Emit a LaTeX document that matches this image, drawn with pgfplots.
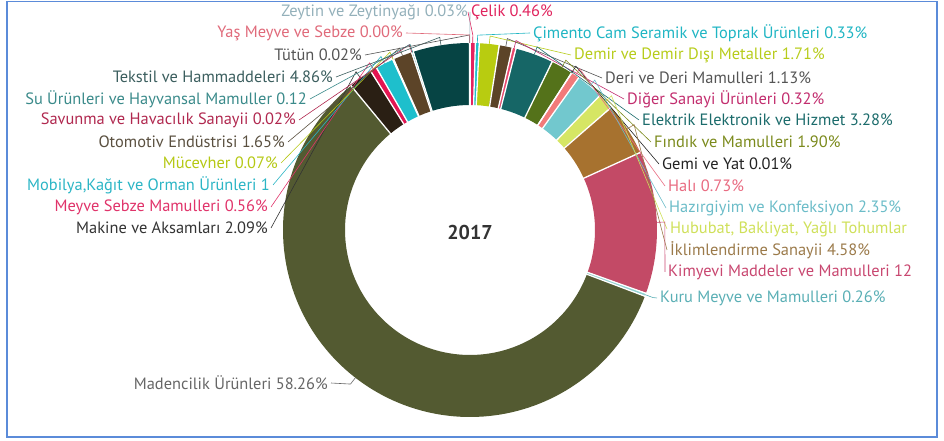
\documentclass[border=0pt]{standalone}
\usepackage{fontspec}
\setmainfont{PT Sans}
\usepackage{pgfplots}
\pgfplotsset{compat=1.18}
\definecolor{frameblue}{HTML}{5B8BD9}
% slice colours
\definecolor{sCelik}{HTML}{E3235F}
\definecolor{sCimento}{HTML}{20BFCC}
\definecolor{sDemir}{HTML}{B8CC10}
\definecolor{sDeri}{HTML}{5C4428}
\definecolor{sDiger}{HTML}{E8466B}
\definecolor{sElektrik}{HTML}{166666}
\definecolor{sFindik}{HTML}{54721A}
\definecolor{sGemi}{HTML}{111111}
\definecolor{sHali}{HTML}{F27A7A}
\definecolor{sHazir}{HTML}{72C8CE}
\definecolor{sHububat}{HTML}{D6E664}
\definecolor{sIklim}{HTML}{A7722F}
\definecolor{sKimya}{HTML}{C34A66}
\definecolor{sKuru}{HTML}{8FD0D0}
\definecolor{sMaden}{HTML}{535A31}
\definecolor{sMakine}{HTML}{2A1F14}
\definecolor{sMeyve}{HTML}{E31552}
\definecolor{sMobilya}{HTML}{1EBFCC}
\definecolor{sMucevher}{HTML}{B8CC10}
\definecolor{sOto}{HTML}{5C4428}
\definecolor{sSavunma}{HTML}{A0183F}
\definecolor{sSu}{HTML}{2A8A8A}
\definecolor{sTekstil}{HTML}{064444}
\definecolor{sTutun}{HTML}{888888}
\definecolor{sYas}{HTML}{F27A7A}
\definecolor{sZeytin}{HTML}{9AB8C0}
% label colours
\definecolor{lZeytin}{HTML}{93B0BA}
\definecolor{lYas}{HTML}{E06A7A}
\definecolor{lTutun}{HTML}{555555}
\definecolor{lTekstil}{HTML}{3B5E5E}
\definecolor{lSu}{HTML}{3A8A8A}
\definecolor{lSavunma}{HTML}{B0284F}
\definecolor{lOto}{HTML}{5A5040}
\definecolor{lMucevher}{HTML}{B5C814}
\definecolor{lMobilya}{HTML}{2BB5C5}
\definecolor{lMeyve}{HTML}{E0336A}
\definecolor{lMakine}{HTML}{333333}
\definecolor{lMaden}{HTML}{666666}
\definecolor{lCelik}{HTML}{E0245E}
\definecolor{lCimento}{HTML}{1FB5C3}
\definecolor{lDemir}{HTML}{B7CC1B}
\definecolor{lDeri}{HTML}{555555}
\definecolor{lDiger}{HTML}{C22D6E}
\definecolor{lElektrik}{HTML}{1B6B6B}
\definecolor{lFindik}{HTML}{7B8A1C}
\definecolor{lGemi}{HTML}{222222}
\definecolor{lHali}{HTML}{E86A80}
\definecolor{lHazir}{HTML}{6BBCC8}
\definecolor{lHububat}{HTML}{CFE05A}
\definecolor{lIklim}{HTML}{9B7A4A}
\definecolor{lKimya}{HTML}{C84770}
\definecolor{lKuru}{HTML}{5AAFB5}

% slice: start %, end %, colour, samples
\newcommand\slice[4]{%
\addplot[draw=#3, line width=62pt, line cap=butt, line join=miter, domain=#1:#2, samples=#4, variable=\t] ({470+156*sin(3.6*\t)},{211+156*cos(3.6*\t)});
}
% separator at boundary %
\newcommand\sep[1]{%
\addplot[white, line width=1.3pt, domain=123:189, samples=2, variable=\t] ({470+\t*sin(3.6*#1)},{211+\t*cos(3.6*#1)});
}
% leader: mid %, x, y(pgf), colour
\newcommand\lead[4]{%
\draw[#4, line width=0.6pt] (axis cs:{470+187*sin(3.6*#1)},{211+187*cos(3.6*#1)}) -- (axis cs:{470+195*sin(3.6*#1)},{211+195*cos(3.6*#1)}) -- (axis cs:#2,#3);}
\newcommand\rlab[4]{\node[anchor=west, inner sep=0pt, text=#4, font=\fontsize{16.4}{18}\selectfont] at (axis cs:#1,#2) {#3};}
\newcommand\llab[4]{\node[anchor=east, inner sep=0pt, text=#4, font=\fontsize{16.4}{18}\selectfont] at (axis cs:#1,#2) {#3};}

\begin{document}
\begin{tikzpicture}
\begin{axis}[x=1pt, y=1pt, xmin=0, xmax=944, ymin=0, ymax=441, hide axis, clip=false, scale only axis]
% slices (cumulative percentages of the 2017 shares; shares below 0.05 are too thin to show)
\slice{0}{0.46}{sCelik}{2}
\slice{0.46}{0.79}{sCimento}{2}
\slice{0.79}{2.50}{sDemir}{4}
\slice{2.50}{3.63}{sDeri}{3}
\slice{3.63}{3.95}{sDiger}{2}
\slice{3.95}{7.23}{sElektrik}{6}
\slice{7.23}{9.13}{sFindik}{4}
\slice{9.14}{9.87}{sHali}{2}
\slice{9.87}{12.22}{sHazir}{5}
\slice{12.22}{13.62}{sHububat}{3}
\slice{13.62}{18.20}{sIklim}{8}
\slice{18.20}{30.50}{sKimya}{20}
\slice{30.50}{30.76}{sKuru}{2}
\slice{30.76}{89.02}{sMaden}{120}
\slice{89.02}{91.11}{sMakine}{4}
\slice{91.11}{91.67}{sMeyve}{2}
\slice{91.67}{93.23}{sMobilya}{3}
\slice{93.23}{93.30}{sMucevher}{2}
\slice{93.30}{94.95}{sOto}{3}
\slice{94.97}{95.09}{sSu}{2}
\slice{95.09}{99.95}{sTekstil}{8}
% separators
\sep{0}\sep{0.46}\sep{0.79}\sep{2.50}\sep{3.63}\sep{3.95}\sep{7.23}\sep{9.13}\sep{9.14}
\sep{9.87}\sep{12.22}\sep{13.62}\sep{18.20}\sep{30.50}\sep{30.76}\sep{89.02}\sep{91.11}
\sep{91.67}\sep{93.23}\sep{93.30}\sep{94.95}\sep{95.09}\sep{99.95}
% leaders right
\lead{0.23}{468}{429}{lCelik}
\lead{0.625}{530}{408}{lCimento}
\lead{1.645}{571}{386}{lDemir}
\lead{3.065}{602}{363}{lDeri}
\lead{3.79}{624}{342}{lDiger}
\lead{5.59}{639}{321}{lElektrik}
\lead{8.18}{651}{299}{lFindik}
\lead{9.135}{659}{277}{lGemi}
\lead{9.505}{665}{255}{lHali}
\lead{11.045}{666}{233}{lHazir}
\lead{12.92}{667}{212}{lHububat}
\lead{15.91}{667}{191}{lIklim}
\lead{24.35}{665}{169}{lKimya}
\lead{30.63}{657}{143}{lKuru}
% leaders left
\lead{60.5}{331}{58}{lMaden}
\lead{90.065}{271}{213}{lMakine}
\lead{91.39}{271}{234}{lMeyve}
\lead{92.45}{273}{256}{lMobilya}
\lead{93.265}{281}{278}{lMucevher}
\lead{94.125}{288}{299}{lOto}
\lead{94.96}{299}{321}{lSavunma}
\lead{95.03}{310}{342}{lSu}
\lead{97.52}{336}{364}{lTekstil}
\lead{99.96}{365}{386}{lTutun}
\lead{99.97}{406}{408}{lYas}
\lead{99.985}{470}{429}{lZeytin}
% labels right
\rlab{471}{429}{Çelik 0.46\%}{lCelik}
\rlab{533}{408}{Çimento Cam Seramik ve Toprak Ürünleri 0.33\%}{lCimento}
\rlab{574}{386}{Demir ve Demir Dışı Metaller 1.71\%}{lDemir}
\rlab{605}{363}{Deri ve Deri Mamulleri 1.13\%}{lDeri}
\rlab{627}{342}{Diğer Sanayi Ürünleri 0.32\%}{lDiger}
\rlab{642}{321}{Elektrik Elektronik ve Hizmet 3.28\%}{lElektrik}
\rlab{654}{299}{Fındık ve Mamulleri 1.90\%}{lFindik}
\rlab{662}{277}{Gemi ve Yat 0.01\%}{lGemi}
\rlab{668}{255}{Halı 0.73\%}{lHali}
\rlab{669}{233}{Hazırgiyim ve Konfeksiyon 2.35\%}{lHazir}
\rlab{670}{212}{Hububat, Bakliyat, Yağlı Tohumlar}{lHububat}
\rlab{670}{191}{İklimlendirme Sanayii 4.58\%}{lIklim}
\rlab{668}{169}{Kimyevi Maddeler ve Mamulleri 12}{lKimya}
\rlab{660}{143}{Kuru Meyve ve Mamulleri 0.26\%}{lKuru}
% labels left
\llab{328}{58}{Madencilik Ürünleri 58.26\%}{lMaden}
\llab{268}{213}{Makine ve Aksamları 2.09\%}{lMakine}
\llab{268}{234}{Meyve Sebze Mamulleri 0.56\%}{lMeyve}
\llab{270}{256}{Mobilya,Kağıt ve Orman Ürünleri 1}{lMobilya}
\llab{278}{278}{Mücevher 0.07\%}{lMucevher}
\llab{285}{299}{Otomotiv Endüstrisi 1.65\%}{lOto}
\llab{296}{321}{Savunma ve Havacılık Sanayii 0.02\%}{lSavunma}
\llab{307}{342}{Su Ürünleri ve Hayvansal Mamuller 0.12}{lSu}
\llab{333}{364}{Tekstil ve Hammaddeleri 4.86\%}{lTekstil}
\llab{362}{386}{Tütün 0.02\%}{lTutun}
\llab{403}{408}{Yaş Meyve ve Sebze 0.00\%}{lYas}
\llab{468}{429}{Zeytin ve Zeytinyağı 0.03\%}{lZeytin}
% title
\node[text=black!80, font=\fontsize{20}{22}\selectfont\bfseries] at (axis cs:470,208) {2017};
% frame
\draw[frameblue, line width=1.5pt] (axis cs:7,4) rectangle (axis cs:937,439.5);
\end{axis}
\pgfresetboundingbox
\useasboundingbox (current axis.south west) rectangle (current axis.north east);
\end{tikzpicture}
\end{document}
